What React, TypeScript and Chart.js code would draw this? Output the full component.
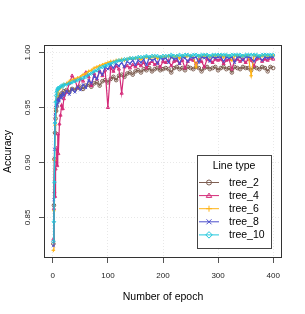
import React, { useEffect, useRef } from "react";
import { Chart, registerables } from "chart.js";

Chart.register(...registerables);

const epochs = [
  1, 2, 3, 4, 5, 6, 7, 8, 9, 10,
  12, 14, 16, 18, 20,
  25, 30, 35, 40, 45, 50, 55, 60, 65, 70, 75, 80, 85, 90, 95, 100,
  105, 110, 115, 120, 125, 130, 135, 140, 145, 150,
  155, 160, 165, 170, 175, 180, 185, 190, 195, 200,
  205, 210, 215, 220, 225, 230, 235, 240, 245, 250,
  255, 260, 265, 270, 275, 280, 285, 290, 295, 300,
  305, 310, 315, 320, 325, 330, 335, 340, 345, 350,
  355, 360, 365, 370, 375, 380, 385, 390, 395, 400,
];

const tree2 = [
  0.826, 0.861, 0.903, 0.927, 0.940, 0.947, 0.951, 0.955, 0.957, 0.959,
  0.961, 0.960, 0.963, 0.962, 0.965,
  0.966, 0.964, 0.967, 0.966, 0.968, 0.969, 0.967, 0.970, 0.971, 0.969, 0.972, 0.973, 0.970, 0.974, 0.975, 0.973,
  0.976, 0.978, 0.975, 0.979, 0.980, 0.978, 0.981, 0.982, 0.980, 0.983,
  0.984, 0.982, 0.985, 0.984, 0.986, 0.983, 0.985, 0.986, 0.984, 0.985,
  0.986, 0.985, 0.982, 0.986, 0.987, 0.985, 0.986, 0.984, 0.987, 0.986,
  0.985, 0.987, 0.986, 0.983, 0.986, 0.987, 0.985, 0.986, 0.987, 0.984,
  0.986, 0.987, 0.985, 0.986, 0.982, 0.987, 0.986, 0.985, 0.987, 0.986,
  0.986, 0.984, 0.987, 0.986, 0.985, 0.987, 0.986, 0.983, 0.987, 0.986,
];

const tree4 = [
  0.830, 0.858, 0.873, 0.869, 0.894, 0.901, 0.913, 0.897, 0.926, 0.908,
  0.935, 0.943, 0.952, 0.949, 0.958,
  0.964, 0.972, 0.979, 0.975, 0.968, 0.976, 0.974, 0.982, 0.978, 0.970, 0.981, 0.976, 0.983, 0.979, 0.984, 0.950,
  0.986, 0.983, 0.988, 0.985, 0.963, 0.987, 0.988, 0.986, 0.989, 0.987,
  0.990, 0.988, 0.991, 0.986, 0.990, 0.992, 0.989, 0.991, 0.987, 0.992,
  0.991, 0.993, 0.988, 0.992, 0.993, 0.990, 0.993, 0.986, 0.992, 0.994,
  0.993, 0.990, 0.994, 0.992, 0.987, 0.994, 0.993, 0.991, 0.994, 0.993,
  0.994, 0.990, 0.993, 0.994, 0.985, 0.993, 0.994, 0.992, 0.994, 0.991,
  0.994, 0.993, 0.988, 0.994, 0.995, 0.992, 0.994, 0.993, 0.995, 0.994,
];

const tree6 = [
  0.820, 0.856, 0.902, 0.934, 0.949, 0.956, 0.960, 0.962, 0.964, 0.966,
  0.967, 0.968, 0.969, 0.970, 0.971,
  0.972, 0.974, 0.975, 0.976, 0.977, 0.978, 0.980, 0.981, 0.983, 0.984, 0.986, 0.987, 0.988, 0.989, 0.990, 0.991,
  0.992, 0.992, 0.993, 0.993, 0.994, 0.993, 0.994, 0.995, 0.994, 0.995,
  0.995, 0.994, 0.995, 0.996, 0.995, 0.996, 0.996, 0.995, 0.996, 0.996,
  0.996, 0.997, 0.996, 0.996, 0.997, 0.995, 0.997, 0.996, 0.997, 0.997,
  0.996, 0.987, 0.997, 0.996, 0.997, 0.997, 0.996, 0.997, 0.997, 0.997,
  0.997, 0.996, 0.997, 0.997, 0.993, 0.997, 0.997, 0.996, 0.997, 0.997,
  0.997, 0.979, 0.997, 0.997, 0.996, 0.997, 0.997, 0.997, 0.996, 0.997,
];

const tree8 = [
  0.824, 0.866, 0.912, 0.944, 0.950, 0.954, 0.952, 0.957, 0.955, 0.958,
  0.956, 0.961, 0.959, 0.963, 0.961,
  0.965, 0.962, 0.967, 0.964, 0.969, 0.966, 0.971, 0.968, 0.975, 0.972, 0.979, 0.976, 0.983, 0.980, 0.987, 0.985,
  0.989, 0.986, 0.990, 0.988, 0.991, 0.987, 0.992, 0.990, 0.993, 0.989,
  0.993, 0.991, 0.994, 0.989, 0.995, 0.993, 0.994, 0.990, 0.995, 0.994,
  0.995, 0.991, 0.996, 0.994, 0.995, 0.990, 0.996, 0.995, 0.992, 0.996,
  0.995, 0.996, 0.991, 0.996, 0.995, 0.996, 0.992, 0.996, 0.995, 0.996,
  0.996, 0.992, 0.996, 0.995, 0.996, 0.991, 0.996, 0.996, 0.993, 0.996,
  0.996, 0.995, 0.992, 0.996, 0.996, 0.993, 0.996, 0.995, 0.996, 0.996,
];

const tree10 = [
  0.828, 0.846, 0.882, 0.936, 0.955, 0.961, 0.964, 0.966, 0.967, 0.968,
  0.968, 0.969, 0.970, 0.969, 0.971,
  0.971, 0.972, 0.973, 0.974, 0.975, 0.976, 0.977, 0.978, 0.980, 0.981, 0.983, 0.984, 0.986, 0.987, 0.988, 0.989,
  0.990, 0.991, 0.992, 0.993, 0.993, 0.994, 0.994, 0.995, 0.995, 0.995,
  0.996, 0.996, 0.996, 0.997, 0.996, 0.997, 0.997, 0.997, 0.996, 0.997,
  0.997, 0.997, 0.998, 0.997, 0.997, 0.998, 0.997, 0.998, 0.998, 0.997,
  0.998, 0.998, 0.997, 0.998, 0.998, 0.998, 0.997, 0.998, 0.998, 0.998,
  0.998, 0.998, 0.998, 0.997, 0.998, 0.998, 0.998, 0.998, 0.997, 0.998,
  0.998, 0.998, 0.998, 0.998, 0.997, 0.998, 0.998, 0.998, 0.998, 0.998,
];

const seriesNames = ["tree_2", "tree_4", "tree_6", "tree_8", "tree_10"];
const seriesValues = [tree2, tree4, tree6, tree8, tree10];
const seriesColors = ["#7e5f52", "#d42a78", "#ffb316", "#4c4fcc", "#22c8dc"];
const seriesMarkers = ["circle", "triangle", "cross", "crossRot", "rectRot"];

const xTicks = [0, 100, 200, 300, 400];
const yTicks = [0.85, 0.9, 0.95, 1.0];

const FONT = "'Liberation Sans', Arial, Helvetica, sans-serif";

function drawMarker(ctx: CanvasRenderingContext2D, style: string, x: number, y: number, r: number) {
  ctx.beginPath();
  if (style === "circle") {
    ctx.arc(x, y, r, 0, Math.PI * 2);
  } else if (style === "triangle") {
    const h = r * 1.6;
    ctx.moveTo(x, y - h * 0.62);
    ctx.lineTo(x + r * 1.1, y + h * 0.45);
    ctx.lineTo(x - r * 1.1, y + h * 0.45);
    ctx.closePath();
  } else if (style === "cross") {
    ctx.moveTo(x - r * 1.2, y);
    ctx.lineTo(x + r * 1.2, y);
    ctx.moveTo(x, y - r * 1.2);
    ctx.lineTo(x, y + r * 1.2);
  } else if (style === "crossRot") {
    ctx.moveTo(x - r, y - r);
    ctx.lineTo(x + r, y + r);
    ctx.moveTo(x - r, y + r);
    ctx.lineTo(x + r, y - r);
  } else {
    ctx.moveTo(x, y - r * 1.3);
    ctx.lineTo(x + r * 1.3, y);
    ctx.lineTo(x, y + r * 1.3);
    ctx.lineTo(x - r * 1.3, y);
    ctx.closePath();
  }
  ctx.stroke();
}

const framePlugin = {
  id: "frame",
  afterDraw(chart: any) {
    const { ctx, chartArea: a } = chart;
    ctx.save();
    ctx.strokeStyle = "#333333";
    ctx.lineWidth = 1;
    ctx.strokeRect(a.left + 0.5, a.top + 0.5, a.right - a.left - 1, a.bottom - a.top - 1);

    // legend
    const bx = 197.5, by = 155.5, bw = 74, bh = 93;
    ctx.fillStyle = "#ffffff";
    ctx.fillRect(bx, by, bw, bh);
    ctx.strokeStyle = "#444444";
    ctx.strokeRect(bx, by, bw, bh);
    ctx.fillStyle = "#000000";
    ctx.font = `10.5px ${FONT}`;
    ctx.textAlign = "center";
    ctx.textBaseline = "middle";
    ctx.fillText("Line type", 234, 166.5);
    ctx.textAlign = "left";
    for (let i = 0; i < seriesNames.length; i++) {
      const y = 182.5 + i * 13.1;
      ctx.strokeStyle = seriesColors[i];
      ctx.lineWidth = 1;
      ctx.beginPath();
      ctx.moveTo(199, y);
      ctx.lineTo(219, y);
      ctx.stroke();
      drawMarker(ctx, seriesMarkers[i], 209, y, 2.5);
      ctx.fillStyle = "#000000";
      ctx.fillText(seriesNames[i], 229, y + 0.5);
    }
    ctx.restore();
  },
};

export default function App() {
  const ref = useRef<HTMLCanvasElement | null>(null);
  useEffect(() => {
    if (!ref.current) return;
    const datasets = seriesNames.map((name, i) => ({
      label: name,
      data: epochs.map((e, j) => ({ x: e, y: seriesValues[i][j] })),
      borderColor: seriesColors[i],
      backgroundColor: "rgba(0,0,0,0)",
      pointBorderColor: seriesColors[i],
      pointBackgroundColor: "rgba(0,0,0,0)",
      pointStyle: seriesMarkers[i],
      pointRadius: 1.8,
      pointBorderWidth: 1,
      borderWidth: 1.2,
      tension: 0,
      order: seriesNames.length - i,
    }));
    const chart = new Chart(ref.current, {
      type: "line",
      data: { datasets },
      plugins: [framePlugin],
      options: {
        animation: false,
        responsive: false,
        events: [],
        layout: { padding: { top: 45, right: 23, left: 0, bottom: 0 } },
        plugins: { legend: { display: false }, tooltip: { enabled: false } },
        scales: {
          x: {
            type: "linear",
            min: -16,
            max: 416,
            afterBuildTicks: (s: any) => {
              s.ticks = xTicks.map((v) => ({ value: v }));
            },
            afterFit: (s: any) => {
              s.height = 56;
            },
            grid: {
              color: "#e8e8e8",
              lineWidth: 1,
              tickColor: "#555555",
              tickLength: 5,
              tickBorderDash: [],
            },
            border: { display: false, dash: [1, 2] },
            ticks: {
              color: "#222222",
              font: { size: 8, family: FONT },
              padding: 8,
              maxRotation: 0,
              autoSkip: false,
              callback: (v: any) => String(v),
            },
            title: {
              display: true,
              text: "Number of epoch",
              color: "#000000",
              font: { size: 10.5, family: FONT },
              padding: { top: 0, bottom: 11 },
            },
          },
          y: {
            type: "linear",
            min: 0.813,
            max: 1.007,
            afterBuildTicks: (s: any) => {
              s.ticks = yTicks.map((v) => ({ value: v }));
            },
            afterFit: (s: any) => {
              s.width = 44;
            },
            grid: {
              color: "#e8e8e8",
              lineWidth: 1,
              tickColor: "#555555",
              tickLength: 5,
              tickBorderDash: [],
            },
            border: { display: false, dash: [1, 2] },
            ticks: {
              color: "#222222",
              font: { size: 8, family: FONT },
              padding: 3,
              minRotation: 90,
              maxRotation: 90,
              crossAlign: "center",
              autoSkip: false,
              callback: (v: any) => Number(v).toFixed(2),
            },
            title: {
              display: true,
              text: "Accuracy",
              color: "#000000",
              font: { size: 10.5, family: FONT },
              padding: { top: 2, bottom: 0 },
            },
          },
        },
      } as any,
    });
    return () => chart.destroy();
  }, []);
  return (
    <div style={{ position: "fixed", left: 0, top: 0, width: 305, height: 314, background: "#ffffff" }}>
      <canvas ref={ref} width={305} height={314} style={{ width: 305, height: 314, display: "block" }} />
    </div>
  );
}
